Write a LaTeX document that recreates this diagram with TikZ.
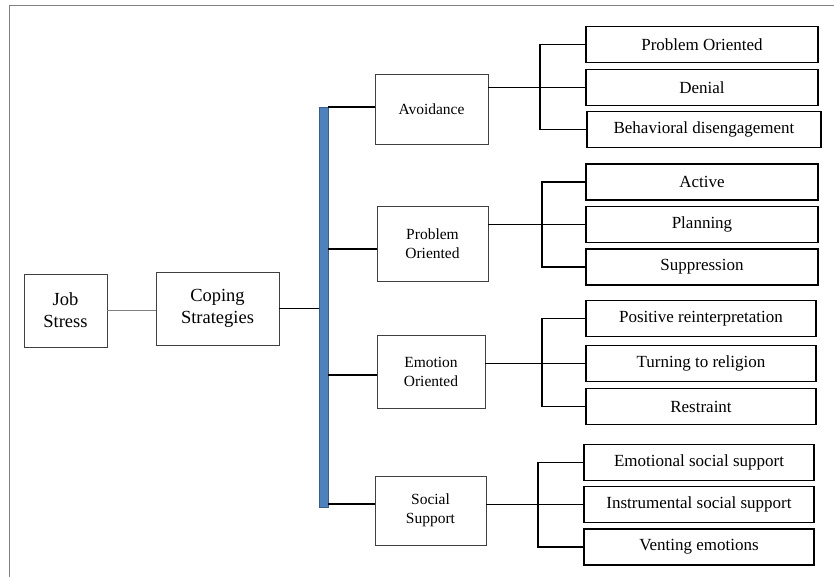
\documentclass[tikz,border=0pt]{standalone}
\usepackage{fontspec}
\setmainfont{Liberation Serif}
\newfontfamily\tnr{Liberation Serif}
\usepackage{tikz}
\usetikzlibrary{positioning,calc}
\definecolor{cBar}{HTML}{4F81BD}
\definecolor{cBarLine}{HTML}{385D8A}
\definecolor{cFrame}{HTML}{808080}
\definecolor{cThin}{HTML}{404040}
\tikzset{
  root/.style  = {rectangle, draw=cThin, line width=0.8pt, align=center, inner sep=0pt,
                  font=\tnr\fontsize{18.5}{22}\selectfont},
  mid/.style   = {rectangle, draw=cThin, line width=0.8pt, align=center, inner sep=0pt,
                  font=\tnr\fontsize{15.5}{19}\selectfont},
  leaf/.style  = {rectangle, draw=black, line width=1.5pt, align=center, inner sep=0pt,
                  minimum width=232pt, minimum height=36pt, font=\tnr\fontsize{17}{20}\selectfont},
  thin/.style  = {draw=cThin, line width=0.8pt},
  thick/.style = {draw=black, line width=1.5pt},
}
\begin{document}
\begin{tikzpicture}[x=1pt, y=-1pt]
  \useasboundingbox (0,0) rectangle (834,577);
  % frame
  \draw[cFrame, line width=1pt] (834,5.5) -- (9.5,5.5) -- (9.5,577);

  \node[root, minimum width=83pt, minimum height=73pt] (job) at (65.5,310.5) {Job\\Stress};
  \node[root, minimum width=123pt, minimum height=73pt] (cope) at (217.5,308.5) {Coping\\Strategies};
  \node[rectangle, fill=cBar, draw=cBarLine, line width=0.8pt, inner sep=0pt,
        minimum width=9pt, minimum height=400pt] (bar) at (323.5,307) {};

  \node[mid, minimum width=113pt, minimum height=70pt] (avoid) at (431.5,109) {Avoidance};
  \node[mid, minimum width=111pt, minimum height=75pt] (probm) at (432.5,243.5) {Problem\\Oriented};
  \node[mid, minimum width=108pt, minimum height=73pt] (emom) at (431,371.5) {Emotion\\Oriented};
  \node[mid, minimum width=111pt, minimum height=69pt] (socm) at (430.5,510.5) {Social\\Support};

  \node[leaf] (a1) at (702,44.5)  {Problem Oriented};
  \node[leaf] (a2) at (702,87.5)  {Denial};
  \node[leaf, minimum width=234pt] (a3) at (704,129.5) {Behavioral disengagement};
  \node[leaf] (p1) at (702,182)   {Active};
  \node[leaf] (p2) at (702,224.5) {Planning};
  \node[leaf] (p3) at (702,267)   {Suppression};
  \node[leaf, minimum width=230pt] (e1) at (701,318.5) {Positive reinterpretation};
  \node[leaf, minimum width=230pt] (e2) at (701,363.5) {Turning to religion};
  \node[leaf, minimum width=230pt] (e3) at (701,406.5) {Restraint};
  \node[leaf, minimum width=230pt] (s1) at (699,462.5) {Emotional social support};
  \node[leaf, minimum width=230pt] (s2) at (699,504.5) {Instrumental social support};
  \node[leaf, minimum width=230pt] (s3) at (699,547)   {Venting emotions};

  \draw[cFrame, line width=0.8pt] (job.east) -- (job.east -| cope.west);
  \draw[draw=black, line width=0.8pt] (cope.east) -- (cope.east -| bar.west);

  \draw[thick] ([yshift=2pt]avoid.west) -- ([yshift=2pt]avoid.west -| bar.east);
  \draw[thick] ([yshift=-5.5pt]probm.west) -- ([yshift=-5.5pt]probm.west -| bar.east);
  \draw[thick] ([yshift=-3.5pt]emom.west) -- ([yshift=-3.5pt]emom.west -| bar.east);
  \draw[thick] ([yshift=6.5pt]socm.west) -- ([yshift=6.5pt]socm.west -| bar.east);

  \foreach \m/\l/\x in {avoid/a/540, probm/p/542, emom/e/542, socm/s/538} {
    \draw[thick] (\l2.west -| \m.east) -- (\l2.west);
    \draw[thick] (\l1.west) -- (\x,0 |- \l1.west) |- (\l3.west);
  }
\end{tikzpicture}
\end{document}
